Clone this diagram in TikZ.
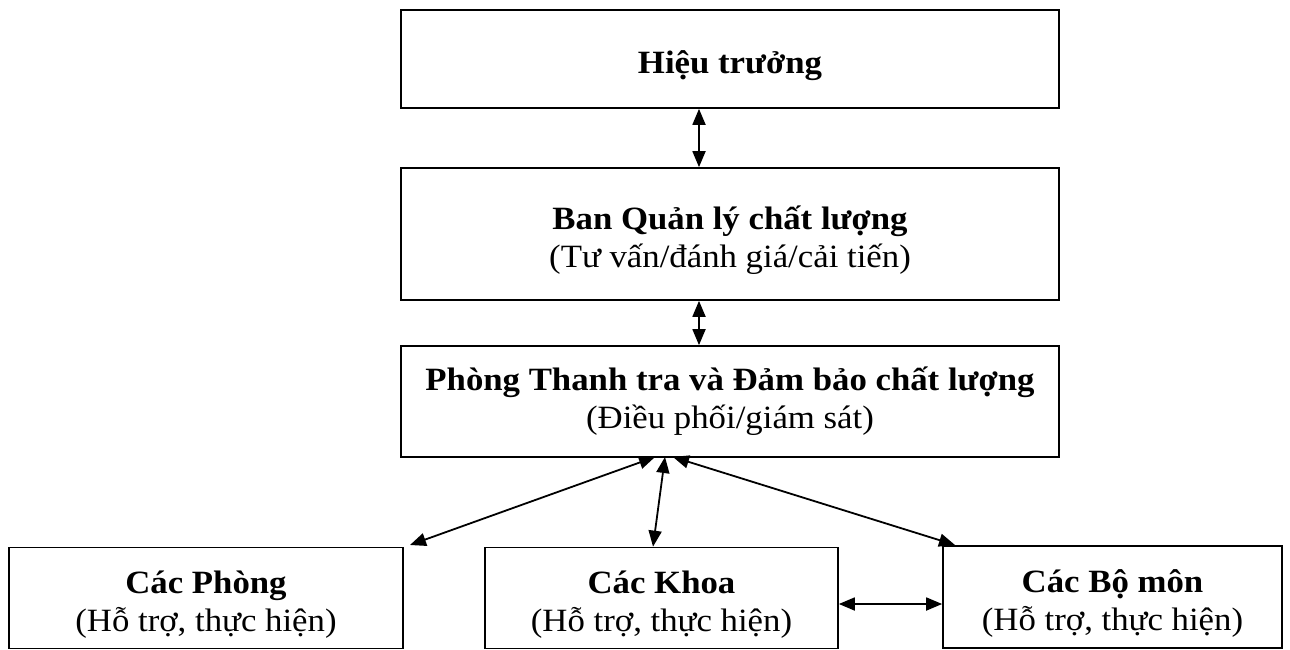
\documentclass[tikz,border=0pt]{standalone}
\usepackage{fontspec}
\setmainfont{Liberation Serif}[FakeStretch=1.07]
\usetikzlibrary{arrows.meta,calc}
\newcommand{\mystrut}[1]{\rule{0pt}{#1}}
\begin{document}
\begin{tikzpicture}[x=1pt,y=-1pt,
  box/.style={draw, line width=1.7pt, inner sep=0pt, align=center,
    font=\fontsize{32.5}{38}\selectfont},
  conn/.style={{Triangle[length=16pt,width=13pt]}-{Triangle[length=16pt,width=13pt]}, line width=1.8pt}]
\useasboundingbox[fill=white] (0,0) rectangle (1290,650);
\node[box, minimum width=658pt, minimum height=98pt] (hieu) at (730,59) {\mystrut{36pt}\textbf{Hiệu trưởng}};
\node[box, minimum width=658pt, minimum height=132pt] (ban) at (730,234) {\mystrut{36pt}\textbf{Ban Quản lý chất lượng}\\(Tư vấn/đánh giá/cải tiến)};
\node[box, minimum width=658pt, minimum height=111pt] (ptt) at (730,401.5) {\textbf{Phòng Thanh tra và Đảm bảo chất lượng}\\(Điều phối/giám sát)};
\node[box, minimum width=394pt, minimum height=101pt] (phong) at (206,598) {\mystrut{36pt}\textbf{Các Phòng}\\(Hỗ trợ, thực hiện)};
\node[box, minimum width=353pt, minimum height=101pt] (khoa) at (661.5,598) {\mystrut{36pt}\textbf{Các Khoa}\\(Hỗ trợ, thực hiện)};
\node[box, minimum width=339pt, minimum height=102pt] (bomon) at (1112.5,597) {\mystrut{36pt}\textbf{Các Bộ môn}\\(Hỗ trợ, thực hiện)};
\coordinate (ax) at (699,0);
\coordinate (hy) at (0,604);
\coordinate (f1) at (655,457);
\coordinate (f2) at (665,457);
\coordinate (f3) at (673,457);
\coordinate (t1) at (410,545);
\coordinate (t2) at (653,0);
\coordinate (t3) at (955,545);
\draw[conn] (hieu.south -| ax) -- (ban.north -| ax);
\draw[conn] (ban.south -| ax) -- (ptt.north -| ax);
\draw[conn] (f1) -- (t1);
\draw[conn] (f2) -- (khoa.north -| t2);
\draw[conn] (f3) -- (t3);
\draw[conn] (khoa.east |- hy) -- (bomon.west |- hy);
\end{tikzpicture}
\end{document}
